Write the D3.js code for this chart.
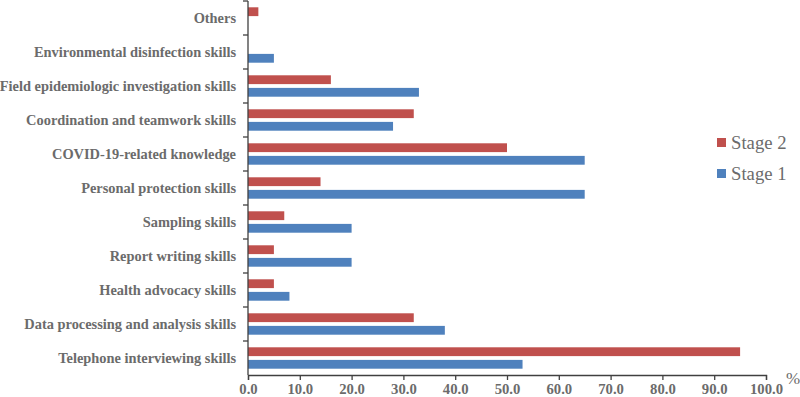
<!DOCTYPE html>
<html lang="en">
  <head>
    <meta charset="UTF-8" />
    <title>Skills by stage</title>
    <style>
      body {
        margin: 0;
        background: #fff;
      }
      svg text {
        font-family: "Times New Roman", "Liberation Serif", serif;
      }
      .axis path,
      .axis line {
        stroke: #404040;
        stroke-width: 1.3;
      }
      .axis text {
        fill: #6b6b6b;
        font-weight: bold;
        font-size: 14.7px;
      }
      .ylab text {
        font-size: 14.4px;
      }
    </style>
  </head>
  <body>
    <script src="https://d3js.org/d3.v7.min.js"></script>
    <script>
      // categories, top to bottom
      const categories = [
        "Others",
        "Environmental disinfection skills",
        "Field epidemiologic investigation skills",
        "Coordination and teamwork skills",
        "COVID-19-related knowledge",
        "Personal protection skills",
        "Sampling skills",
        "Report writing skills",
        "Health advocacy skills",
        "Data processing and analysis skills",
        "Telephone interviewing skills",
      ];
      const stage1 = [0, 5, 33, 28, 65, 65, 20, 20, 8, 38, 53];
      const stage2 = [2, 0, 16, 32, 50, 14, 7, 5, 5, 32, 95];
      const xTicks = [0, 10, 20, 30, 40, 50, 60, 70, 80, 90, 100];
      const seriesNames = ["Stage 2", "Stage 1"];
      const colors = { "Stage 2": "#C0504D", "Stage 1": "#4F81BD" };

      const width = 800;
      const height = 397;
      const margin = { top: 1, right: 34, bottom: 22, left: 248 };

      const svg = d3
        .select("body")
        .append("svg")
        .attr("width", width)
        .attr("height", height);

      const x = d3
        .scaleLinear()
        .domain([0, 100])
        .range([margin.left, width - margin.right]);

      const y = d3
        .scaleBand()
        .domain(categories)
        .range([margin.top, height - margin.bottom])
        .paddingInner(0)
        .paddingOuter(0);

      const inner = d3
        .scaleBand()
        .domain(seriesNames)
        .range([0, y.bandwidth()])
        .paddingInner(0.3)
        .paddingOuter(0.5);

      const rows = categories.map((c, i) => ({
        category: c,
        values: [
          { name: "Stage 2", value: stage2[i] },
          { name: "Stage 1", value: stage1[i] },
        ],
      }));

      // bars
      svg
        .append("g")
        .selectAll("g")
        .data(rows)
        .join("g")
        .attr("transform", (d) => `translate(0, ${y(d.category)})`)
        .selectAll("rect")
        .data((d) => d.values.filter((v) => v.value > 0))
        .join("rect")
        .attr("x", x(0))
        .attr("y", (d) => inner(d.name))
        .attr("width", (d) => x(d.value) - x(0))
        .attr("height", inner.bandwidth())
        .attr("fill", (d) => colors[d.name]);

      // x axis
      svg
        .append("g")
        .attr("class", "axis")
        .attr("transform", `translate(0, ${height - margin.bottom})`)
        .call(
          d3
            .axisBottom(x)
            .tickValues(xTicks)
            .tickSize(5)
            .tickSizeOuter(5)
            .tickPadding(4)
            .tickFormat(d3.format(".1f"))
        );

      // y axis with ticks between categories
      const yAxisG = svg
        .append("g")
        .attr("class", "axis ylab")
        .attr("transform", `translate(${margin.left}, 0)`)
        .call(d3.axisLeft(y).tickSize(0).tickPadding(12));
      yAxisG.select(".domain").attr("d", `M0,${margin.top}V${height - margin.bottom}`);
      yAxisG
        .selectAll(".sep")
        .data(categories.slice(1))
        .join("line")
        .attr("class", "sep")
        .attr("x1", -5)
        .attr("x2", 0)
        .attr("y1", (d) => y(d))
        .attr("y2", (d) => y(d));
      yAxisG
        .append("line")
        .attr("x1", -5)
        .attr("x2", 0)
        .attr("y1", margin.top)
        .attr("y2", margin.top);

      // unit label
      svg
        .append("text")
        .attr("x", width - 7)
        .attr("y", height - margin.bottom + 9)
        .attr("text-anchor", "middle")
        .attr("fill", "#6b6b6b")
        .style("font-size", "17px")
        .text("%");

      // legend
      const legend = svg
        .append("g")
        .selectAll("g")
        .data(seriesNames)
        .join("g")
        .attr("transform", (d, i) => `translate(717, ${138 + i * 31})`);
      legend
        .append("rect")
        .attr("width", 9)
        .attr("height", 9)
        .attr("fill", (d) => colors[d]);
      legend
        .append("text")
        .attr("x", 14)
        .attr("y", 4.5)
        .attr("dy", "0.35em")
        .attr("fill", "#6b6b6b")
        .style("font-size", "18.7px")
        .text((d) => d);
    </script>
  </body>
</html>
